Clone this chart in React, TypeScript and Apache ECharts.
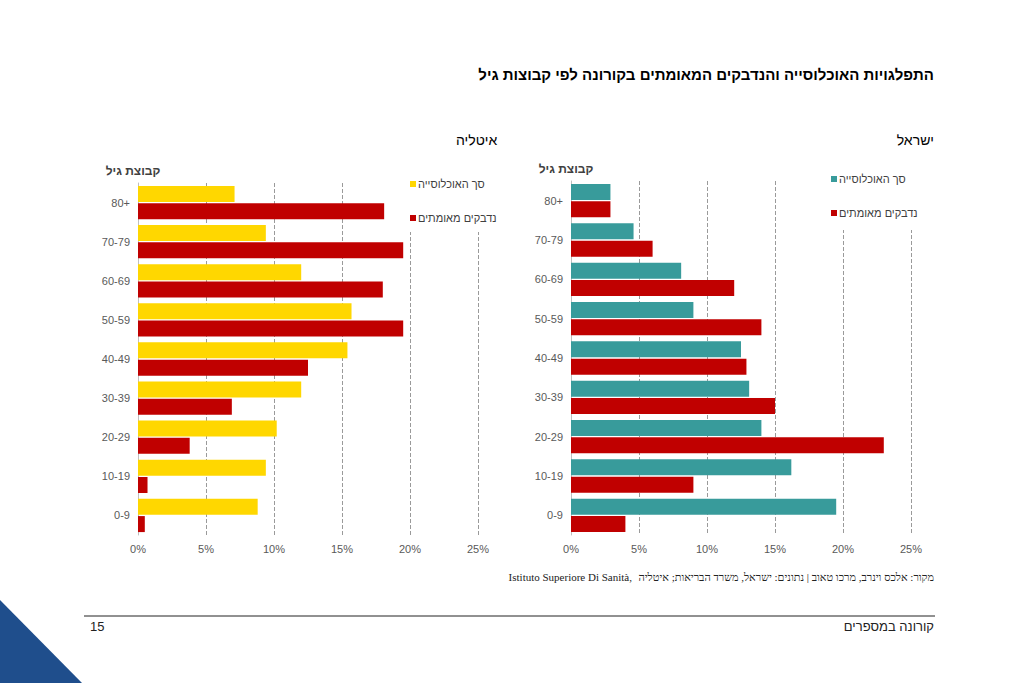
import React, { useEffect, useRef } from 'react';
import * as echarts from 'echarts';

const ageGroups = ['0-9', '10-19', '20-29', '30-39', '40-49', '50-59', '60-69', '70-79', '80+'];
const italyPopulation = [8.8, 9.4, 10.2, 12.0, 15.4, 15.7, 12.0, 9.4, 7.1];
const italyConfirmed = [0.5, 0.7, 3.8, 6.9, 12.5, 19.5, 18.0, 19.5, 18.1];
const israelPopulation = [19.5, 16.2, 14.0, 13.1, 12.5, 9.0, 8.1, 4.6, 2.9];
const israelConfirmed = [4.0, 9.0, 23.0, 15.0, 12.9, 14.0, 12.0, 6.0, 2.9];

const POP = 'סך האוכלוסייה';
const CONF = 'נדבקים מאומתים';
const font = 'Arial, "Liberation Sans", sans-serif';

const App: React.FC = () => {
  const chartRef = useRef<HTMLDivElement>(null);

  useEffect(() => {
    const chart = echarts.init(chartRef.current!, null, { renderer: 'svg' });

    const xAxis = (gridIndex: number) => ({
      type: 'value', gridIndex, min: 0, max: 25, interval: 5,
      axisLabel: { formatter: '{value}%', color: '#595959', fontSize: 11, fontFamily: font },
      splitLine: { lineStyle: { type: 'dashed', color: '#9a9a9a' } },
      axisLine: { show: false }, axisTick: { show: false },
    });
    const yAxis = (gridIndex: number) => ({
      type: 'category', gridIndex, data: ageGroups,
      name: 'קבוצת גיל', nameLocation: 'end', nameGap: 6,
      nameTextStyle: { fontWeight: 'bold', color: '#404040', fontSize: 12, fontFamily: font, align: 'center', padding: [0, 0, 0, -10] },
      axisLabel: { color: '#595959', fontSize: 11, fontFamily: font },
      axisLine: { lineStyle: { color: '#bfbfbf' } }, axisTick: { show: false },
    });
    const bar = (name: string, data: number[], color: string, idx: number) => ({
      type: 'bar', name, data, xAxisIndex: idx, yAxisIndex: idx,
      barWidth: 16, barGap: '8%', itemStyle: { color }, silent: true,
    });
    const legendItem = (x: number, y: number, text: string, color: string) => [
      { type: 'rect', shape: { x, y: y + 3, width: 6, height: 6 }, style: { fill: color }, z: 21 },
      { type: 'text', x: x + 8, y, z: 21, style: { text, font: `11px ${font}`, fill: '#404040' } },
    ];

    chart.setOption({
      animation: false,
      grid: [
        { left: 138, width: 340, top: 183, height: 352 },
        { left: 571, width: 340, top: 181, height: 354 },
      ],
      xAxis: [xAxis(0), xAxis(1)],
      yAxis: [yAxis(0), yAxis(1)],
      series: [
        bar(POP, italyPopulation, '#ffd700', 0),
        bar(CONF, italyConfirmed, '#c00000', 0),
        bar(POP + ' ', israelPopulation, '#389b9b', 1),
        bar(CONF + ' ', israelConfirmed, '#c00000', 1),
      ],
      graphic: [
        { type: 'text', right: 90, top: 67, style: { text: 'התפלגויות האוכלוסייה והנדבקים המאומתים בקורונה לפי קבוצות גיל', font: `bold 15px ${font}`, fill: '#000' } },
        { type: 'text', left: 456, top: 133, style: { text: 'איטליה', font: `14px ${font}`, fill: '#000' } },
        { type: 'text', right: 90, top: 133, style: { text: 'ישראל', font: `14px ${font}`, fill: '#000' } },
        // legends
        { type: 'rect', shape: { x: 400, y: 172, width: 95, height: 60 }, style: { fill: '#fff' }, z: 20 },
        ...legendItem(410, 178, POP, '#ffd700'),
        ...legendItem(410, 212, CONF, '#c00000'),
        { type: 'rect', shape: { x: 822, y: 166, width: 100, height: 64 }, style: { fill: '#fff' }, z: 20 },
        ...legendItem(831, 173, POP, '#389b9b'),
        ...legendItem(831, 207, CONF, '#c00000'),
        // footer
        { type: 'text', right: 90, top: 571, style: { text: 'מקור: אלכס וינרב, מרכו טאוב | נתונים: ישראל, משרד הבריאות; איטליה', font: `11px "Liberation Serif", serif`, fill: '#222' } },
        { type: 'text', right: 392, top: 571, style: { text: 'Istituto Superiore Di Sanità,', font: `normal 11px "Liberation Serif", serif`, fill: '#222' } },
        { type: 'line', shape: { x1: 84, y1: 616, x2: 935, y2: 616 }, style: { stroke: '#222', lineWidth: 1 } },
        { type: 'text', right: 90, top: 620, style: { text: 'קורונה במספרים', font: `13px ${font}`, fill: '#222' } },
        { type: 'text', left: 90, top: 620, style: { text: '15', font: `13px ${font}`, fill: '#222' } },
        { type: 'polygon', shape: { points: [[0, 600], [82, 683], [0, 683]] }, style: { fill: '#1f4e8c' } },
      ],
    });

    return () => {
      chart.dispose();
    };
  }, []);

  return <div ref={chartRef} style={{ position: 'absolute', left: 0, top: 0, width: 1024, height: 683, background: '#fff' }} />;
};

export default App;
